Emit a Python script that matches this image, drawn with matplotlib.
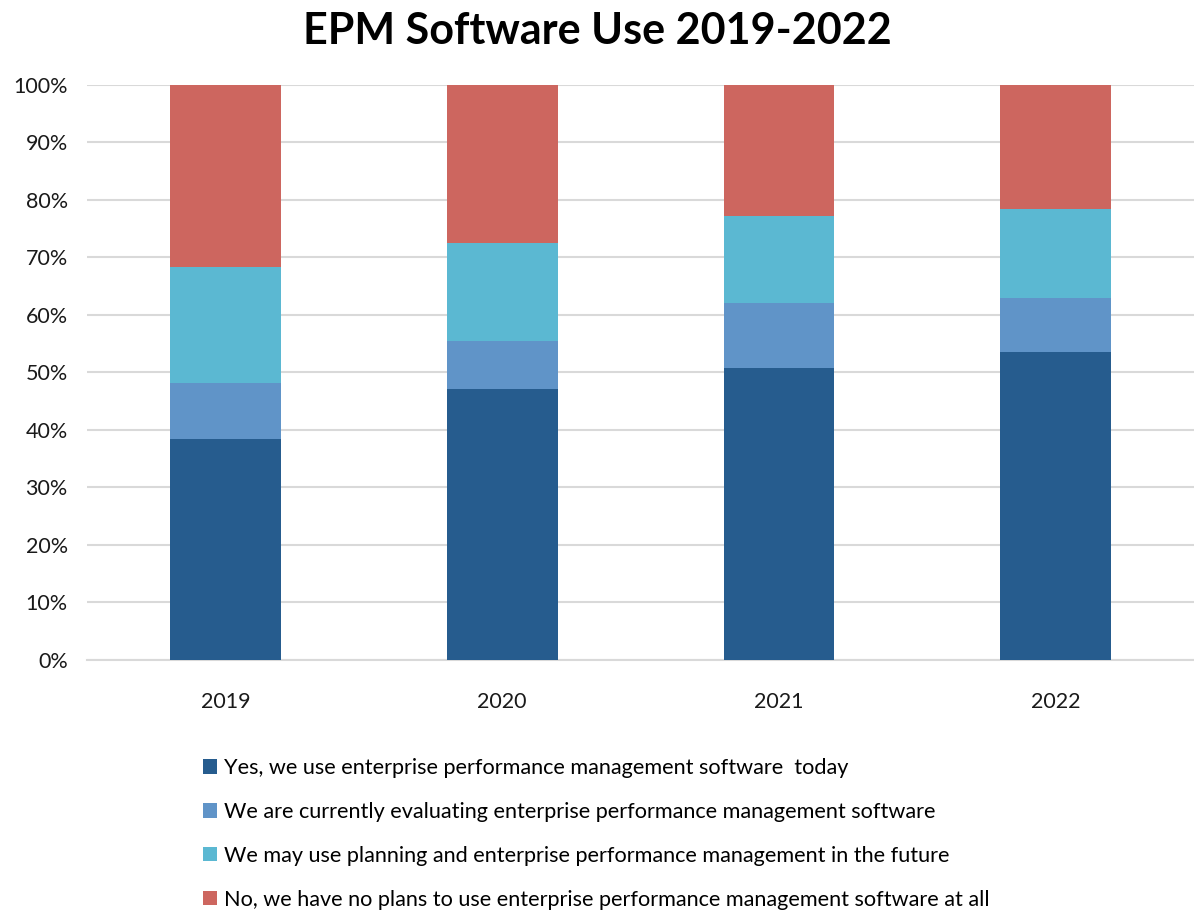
import matplotlib.pyplot as plt
from matplotlib.patches import Patch
import numpy as np

plt.rcParams['font.family'] = ['Lato', 'DejaVu Sans']

years = ['2019', '2020', '2021', '2022']
use_today = [38.4, 47.2, 50.8, 53.6]
evaluating = [9.8, 8.2, 11.2, 9.3]
maybe_future = [20.2, 17.2, 15.3, 15.5]
no_plans = [31.6, 27.4, 22.7, 21.6]

series = [use_today, evaluating, maybe_future, no_plans]
labels = [
    'Yes, we use enterprise performance management software  today',
    'We are currently evaluating enterprise performance management software',
    'We may use planning and enterprise performance management in the future',
    'No, we have no plans to use enterprise performance management software at all',
]
colors = ['#265C8E', '#6094C8', '#5BB8D2', '#CD665F']

fig = plt.figure(figsize=(11.94, 9.14), dpi=100)
ax = fig.add_axes([0.073, 0.278, 0.927, 0.629])

x = np.arange(len(years))
bottom = np.zeros(len(years))
for vals, col in zip(series, colors):
    ax.bar(x, vals, width=0.4, bottom=bottom, color=col, zorder=3)
    bottom += np.array(vals)

ax.set_xlim(-0.5, 3.5)
ax.set_ylim(0, 100)
ax.set_yticks(np.arange(0, 101, 10))
ax.set_yticklabels([f'{v}%' for v in range(0, 101, 10)], fontsize=15.5, color='#1a1a1a')
ax.set_xticks(x)
ax.set_xticklabels(years, fontsize=15.5, color='#1a1a1a')
ax.tick_params(length=0, pad=14)
ax.tick_params(axis='x', pad=23)
ax.yaxis.grid(True, color='#d9d9d9', linewidth=1.5, zorder=0)
for s in ['top', 'right', 'left']:
    ax.spines[s].set_visible(False)
ax.spines['bottom'].set_color('#d9d9d9')
ax.spines['bottom'].set_linewidth(1.5)

fig.suptitle('EPM Software Use 2019-2022', fontsize=31, fontweight='bold', y=0.988)

handles = [Patch(facecolor=c) for c in colors]
fig.legend(handles, labels, loc='upper left', bbox_to_anchor=(0.163, 0.18),
           frameon=False, fontsize=15.6, handlelength=0.65, handleheight=0.65,
           handletextpad=0.3, labelspacing=1.1, borderaxespad=0)

fig.savefig('out.png', dpi=100)
